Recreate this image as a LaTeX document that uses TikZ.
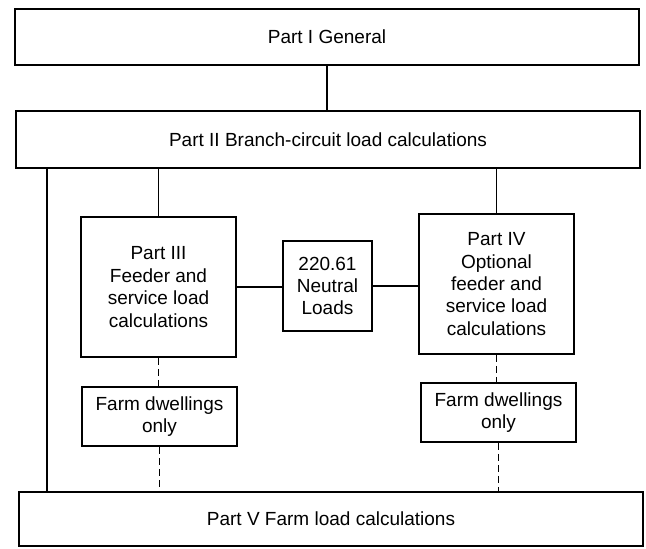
\documentclass[tikz,border=0pt]{standalone}
\usepackage{fontspec}
\setmainfont{Liberation Sans}
\begin{document}
\begin{tikzpicture}[x=1pt,y=-1pt,
  box/.style={draw,line width=1.7pt,inner sep=0pt,align=center,
    font=\fontsize{19}{22.4}\selectfont},
  link/.style={line width=1.2pt},
  dlink/.style={line width=1.2pt,dash pattern=on 7pt off 4pt}]
\useasboundingbox (0,0) rectangle (646,549);
\node[box,minimum width=624,minimum height=56] (I) at (327,37) {Part I General};
\node[box,minimum width=624,minimum height=57] (II) at (328,139.5) {Part II Branch-circuit load calculations};
\node[box,minimum width=155,minimum height=140] (III) at (158.5,287) {Part III\\Feeder and\\service load\\calculations};
\node[box,minimum width=89,minimum height=90] (N) at (327.5,286) {220.61\\Neutral\\Loads};
\node[box,minimum width=155,minimum height=140] (IV) at (496.5,284) {Part IV\\Optional\\feeder and\\service load\\calculations};
\node[box,minimum width=155,minimum height=59] (FL) at (159.5,416.5) {Farm dwellings\\only};
\node[box,minimum width=155,minimum height=59] (FR) at (498.5,412.5) {Farm dwellings\\only};
\node[box,minimum width=624,minimum height=54] (V) at (331,519) {Part V Farm load calculations};
\coordinate (lx) at (47,0);
\draw[link] (I.south) -- (I.south |- II.north);
\draw[link] (III.north |- II.south) -- (III.north);
\draw[link] (IV.north |- II.south) -- (IV.north);
\draw[link] (II.south -| lx) -- (V.north -| lx);
\draw[link] (III.east) -- (III.east -| N.west);
\draw[link] (N.east) -- (N.east -| IV.west);
\draw[dlink] (III.south) -- (III.south |- FL.north);
\draw[dlink] (FL.south) -- (FL.south |- V.north);
\draw[dlink] (IV.south) -- (IV.south |- FR.north);
\draw[dlink] (FR.south) -- (FR.south |- V.north);
\end{tikzpicture}
\end{document}
